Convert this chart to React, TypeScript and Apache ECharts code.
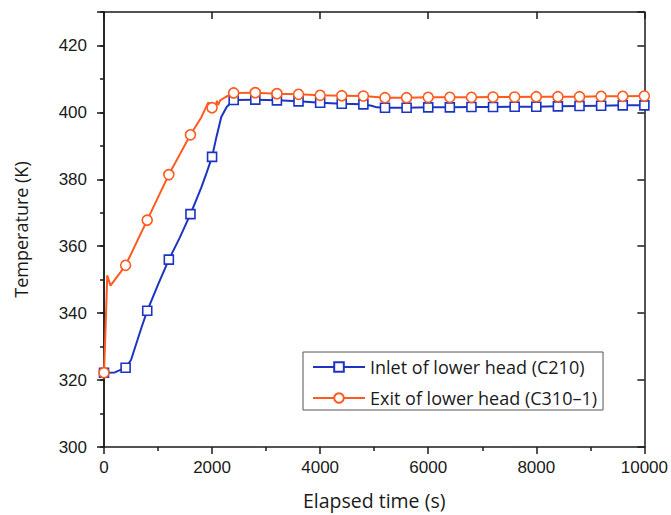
import React, { useEffect, useRef } from "react";
import * as echarts from "echarts";

// Elapsed time (s) and temperature (K)
const inletTimes = [0, 200, 400, 500, 600, 700, 800, 1000, 1200, 1400, 1600, 1800, 1900, 2000, 2080, 2170, 2270, 2360, 2400, 2800, 3200, 3600, 4000, 4400, 4800, 4950, 5050, 5200, 5600, 6000, 6400, 6800, 7200, 7600, 8000, 8400, 8800, 9200, 9600, 10000];
const inletTemps = [322.2, 322.3, 323.7, 326.0, 331.0, 336.0, 340.7, 348.5, 356.0, 362.5, 369.6, 377.5, 382.0, 386.7, 392.6, 398.6, 401.6, 403.1, 403.7, 403.8, 403.6, 403.3, 402.9, 402.6, 402.4, 402.0, 401.5, 401.4, 401.4, 401.5, 401.5, 401.6, 401.6, 401.7, 401.7, 401.8, 401.9, 402.0, 402.1, 402.1];

const exitTimes = [0, 30, 60, 120, 400, 800, 1200, 1600, 1800, 1930, 2000, 2050, 2090, 2110, 2150, 2250, 2400, 2800, 3200, 3600, 4000, 4400, 4800, 5200, 5600, 6000, 6400, 6800, 7200, 7600, 8000, 8400, 8800, 9200, 9600, 10000];
const exitTemps = [322.2, 336.0, 351.3, 348.2, 354.3, 367.8, 381.4, 393.3, 398.5, 403.0, 401.4, 401.0, 403.5, 402.2, 403.6, 404.6, 405.8, 405.9, 405.6, 405.4, 405.1, 405.0, 404.9, 404.4, 404.4, 404.5, 404.5, 404.5, 404.6, 404.6, 404.7, 404.7, 404.7, 404.8, 404.8, 404.9];

const seriesNames = ["Inlet of lower head (C210)", "Exit of lower head (C310\u20131)"];
const markerStep = 400;

const BLUE = "#1c34c0";
const ORANGE = "#ff5a1f";
const INK = "#1a1a1a";
const LABEL_FONT = "'Liberation Sans', Arial, sans-serif";
const TITLE_FONT = "'Open Sans', 'Liberation Sans', sans-serif";

function buildData(times: number[], temps: number[], symbol: string) {
  return times.map((t, i) => ({
    value: [t, temps[i]],
    symbol: t % markerStep === 0 ? symbol : "none",
  }));
}

export default function App() {
  const ref = useRef<HTMLDivElement>(null);

  useEffect(() => {
    if (!ref.current) return;
    const chart = echarts.init(ref.current, null, { renderer: "svg" });

    const baseX = { type: "value", min: 0, max: 10000, interval: 2000, splitLine: { show: false } };
    const baseY = { type: "value", min: 300, max: 430, interval: 20, splitLine: { show: false } };
    const line = { show: true, lineStyle: { color: INK, width: 1.5 } };

    chart.setOption({
      animation: false,
      backgroundColor: "#fff",
      grid: { left: 104, right: 26, top: 12, bottom: 68, containLabel: false },
      legend: {
        data: seriesNames,
        orient: "vertical",
        left: 303,
        top: 352,
        itemWidth: 52,
        itemHeight: 12,
        itemGap: 9,
        padding: [4, 6, 1, 9],
        borderColor: "#555",
        borderWidth: 1,
        textStyle: { fontFamily: TITLE_FONT, fontSize: 18, color: INK, lineHeight: 22 },
      },
      xAxis: [
        {
          ...baseX,
          position: "bottom",
          axisLine: line,
          axisTick: { show: true, inside: false, length: 7, lineStyle: { color: INK, width: 1.5 } },
          minorTick: { show: true, splitNumber: 2, length: 4, lineStyle: { color: INK, width: 1.5 } },
          axisLabel: {
            fontFamily: LABEL_FONT,
            fontSize: 17,
            color: INK,
            margin: 12,
            formatter: (v: number) => String(v),
          },
          name: "Elapsed time (s)",
          nameLocation: "middle",
          nameGap: 43,
          nameTextStyle: { fontFamily: TITLE_FONT, fontSize: 19.5, color: INK },
        },
        {
          ...baseX,
          position: "top",
          axisLine: line,
          axisTick: { show: true, inside: true, length: 7, lineStyle: { color: INK, width: 1.5 } },
          axisLabel: { show: false },
        },
      ],
      yAxis: [
        {
          ...baseY,
          position: "left",
          axisLine: line,
          axisTick: { show: true, inside: false, length: 7, lineStyle: { color: INK, width: 1.5 } },
          axisLabel: {
            fontFamily: LABEL_FONT,
            fontSize: 17,
            color: INK,
            margin: 17,
            formatter: (v: number) => (v % 20 === 0 ? String(v) : ""),
          },
          name: "Temperature (K)",
          nameLocation: "middle",
          nameGap: 74,
          nameRotate: 90,
          nameTextStyle: { fontFamily: TITLE_FONT, fontSize: 18, color: INK },
        },
        {
          type: "value",
          min: 300,
          max: 430,
          interval: 10,
          position: "left",
          splitLine: { show: false },
          axisLine: line,
          axisTick: { show: true, inside: false, length: 4, lineStyle: { color: INK, width: 1.5 } },
          axisLabel: { show: false },
        },
        {
          ...baseY,
          position: "right",
          axisLine: line,
          axisTick: { show: true, inside: true, length: 7, lineStyle: { color: INK, width: 1.5 } },
          axisLabel: { show: false },
        },
      ],
      series: [
        {
          name: seriesNames[0],
          type: "line",
          xAxisIndex: 0,
          yAxisIndex: 0,
          data: buildData(inletTimes, inletTemps, "rect"),
          symbol: "rect",
          symbolSize: 9,
          showSymbol: true,
          showAllSymbol: true,
          smooth: false,
          lineStyle: { color: BLUE, width: 2 },
          itemStyle: { color: "#fff", borderColor: BLUE, borderWidth: 1.6 },
          z: 2,
        },
        {
          name: seriesNames[1],
          type: "line",
          xAxisIndex: 0,
          yAxisIndex: 0,
          data: buildData(exitTimes, exitTemps, "circle"),
          symbol: "circle",
          symbolSize: 10,
          showSymbol: true,
          showAllSymbol: true,
          smooth: false,
          lineStyle: { color: ORANGE, width: 2 },
          itemStyle: { color: "#fff", borderColor: ORANGE, borderWidth: 1.6 },
          z: 3,
        },
      ],
    });

    return () => chart.dispose();
  }, []);

  return (
    <div
      ref={ref}
      style={{ position: "fixed", left: 0, top: 0, width: 671, height: 515, background: "#fff" }}
    />
  );
}
